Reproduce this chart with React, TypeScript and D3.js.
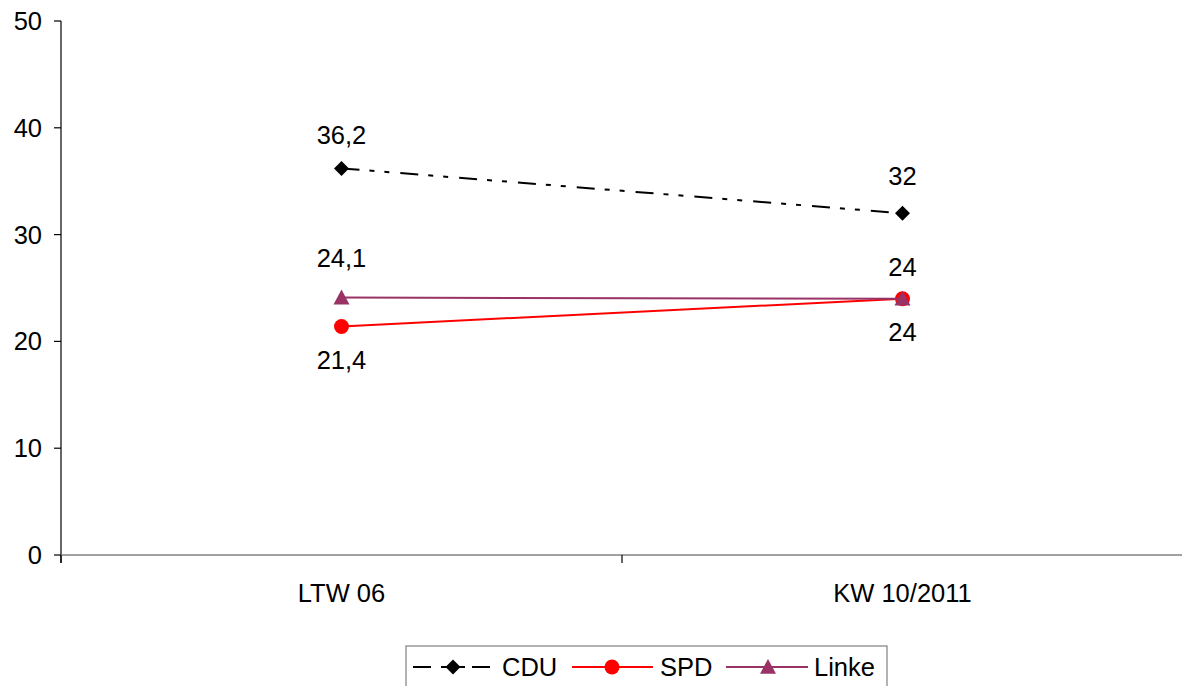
import React from "react";
import * as d3 from "d3";

const categories = ["LTW 06", "KW 10/2011"];
const cduValues = [36.2, 32];
const spdValues = [21.4, 24];
const linkeValues = [24.1, 24];
const cduLabels = ["36,2", "32"];
const spdLabels = ["21,4", "24"];
const linkeLabels = ["24,1", "24"];
const yTicks = [0, 10, 20, 30, 40, 50];

const W = 1182;
const H = 686;
const FONT = "'Liberation Sans', Arial, sans-serif";
const FS = 25.5;

export default function App() {
  const x0 = 61, x1 = 1183, yTop = 21, yBot = 555;
  const y = d3.scaleLinear().domain([0, 50]).range([yBot, yTop]);
  const x = d3.scaleBand().domain(categories).range([x0, x1]).padding(0);
  const cx = (c: string) => (x(c) as number) + x.bandwidth() / 2;
  const line = d3.line<[number, number]>().x((d) => d[0]).y((d) => d[1]);

  const series = [
    { name: "CDU", values: cduValues, labels: cduLabels, color: "#000000", dash: "18,10,5,10,5,11", marker: "diamond", labelDy: [-24, -28] },
    { name: "SPD", values: spdValues, labels: spdLabels, color: "#FF0000", dash: null, marker: "circle", labelDy: [43, -23] },
    { name: "Linke", values: linkeValues, labels: linkeLabels, color: "#993366", dash: null, marker: "triangle", labelDy: [-31, 42] },
  ];

  const marker = (type: string, px: number, py: number, color: string, key: string) => {
    if (type === "diamond") {
      const s = 7.5;
      return <path key={key} d={`M${px},${py - s}L${px + s},${py}L${px},${py + s}L${px - s},${py}Z`} fill={color} />;
    }
    if (type === "circle") return <circle key={key} cx={px} cy={py} r={7.5} fill={color} />;
    const s = 8;
    return <path key={key} d={`M${px},${py - s}L${px + s},${py + s * 0.85}L${px - s},${py + s * 0.85}Z`} fill={color} />;
  };

  const legendItems = [
    { s: series[0], lx0: 413, lx1: 490, mx: 453, tx: 502 },
    { s: series[1], lx0: 572, lx1: 653, mx: 612, tx: 660 },
    { s: series[2], lx0: 726, lx1: 808, mx: 768, tx: 814 },
  ];
  const legendY = 667;

  return (
    <svg width={W} height={H} style={{ position: "absolute", left: 0, top: 0, fontFamily: FONT }}>
      <rect x={0} y={0} width={W} height={H} fill="#fff" />
      {/* Y axis */}
      <line x1={x0} x2={x0} y1={yTop} y2={yBot + 8} stroke="#000" strokeWidth={1.2} />
      {yTicks.map((t) => (
        <g key={t}>
          <line x1={x0 - 7} x2={x0} y1={y(t)} y2={y(t)} stroke="#000" strokeWidth={1.2} />
          <text x={42} y={y(t)} dy="0.35em" textAnchor="end" fontSize={FS} fill="#000">{t}</text>
        </g>
      ))}
      {/* X axis */}
      <line x1={x0} x2={x1} y1={yBot} y2={yBot} stroke="#808080" strokeWidth={1.5} />
      {[x0, x0 + x.bandwidth()].map((t, i) => (
        <line key={i} x1={t} x2={t} y1={yBot} y2={yBot + 8} stroke="#000" strokeWidth={1.2} />
      ))}
      {categories.map((c) => (
        <text key={c} x={cx(c)} y={602} textAnchor="middle" fontSize={FS} fill="#000">{c}</text>
      ))}
      {/* series */}
      {series.map((s) => {
        const pts: [number, number][] = categories.map((c, i) => [cx(c), y(s.values[i])]);
        return (
          <g key={s.name}>
            <path d={line(pts) as string} fill="none" stroke={s.color} strokeWidth={2} strokeDasharray={s.dash ?? undefined} />
            {pts.map((p, i) => marker(s.marker, p[0], p[1], s.color, s.name + i))}
          </g>
        );
      })}
      {/* labels */}
      {series.map((s) =>
        categories.map((c, i) => (
          <text key={s.name + "l" + i} x={cx(c)} y={y(s.values[i]) + s.labelDy[i]} textAnchor="middle" fontSize={FS} fill="#000">
            {s.labels[i]}
          </text>
        ))
      )}
      {/* legend */}
      <rect x={406} y={646} width={481} height={60} fill="#fff" stroke="#808080" strokeWidth={1.2} />
      {legendItems.map((it) => (
        <g key={it.s.name}>
          {it.s.dash ? (
            <g>
              <line x1={it.lx0} x2={it.lx0 + 18} y1={legendY} y2={legendY} stroke={it.s.color} strokeWidth={2} />
              <line x1={it.mx - 12} x2={it.mx + 12} y1={legendY} y2={legendY} stroke={it.s.color} strokeWidth={2} />
              <line x1={it.lx1 - 18} x2={it.lx1} y1={legendY} y2={legendY} stroke={it.s.color} strokeWidth={2} />
            </g>
          ) : (
            <line x1={it.lx0} x2={it.lx1} y1={legendY} y2={legendY} stroke={it.s.color} strokeWidth={2} />
          )}
          {marker(it.s.marker, it.mx, legendY, it.s.color, it.s.name + "m")}
          <text x={it.tx} y={legendY} dy="0.35em" fontSize={FS} fill="#000">{it.s.name}</text>
        </g>
      ))}
    </svg>
  );
}
